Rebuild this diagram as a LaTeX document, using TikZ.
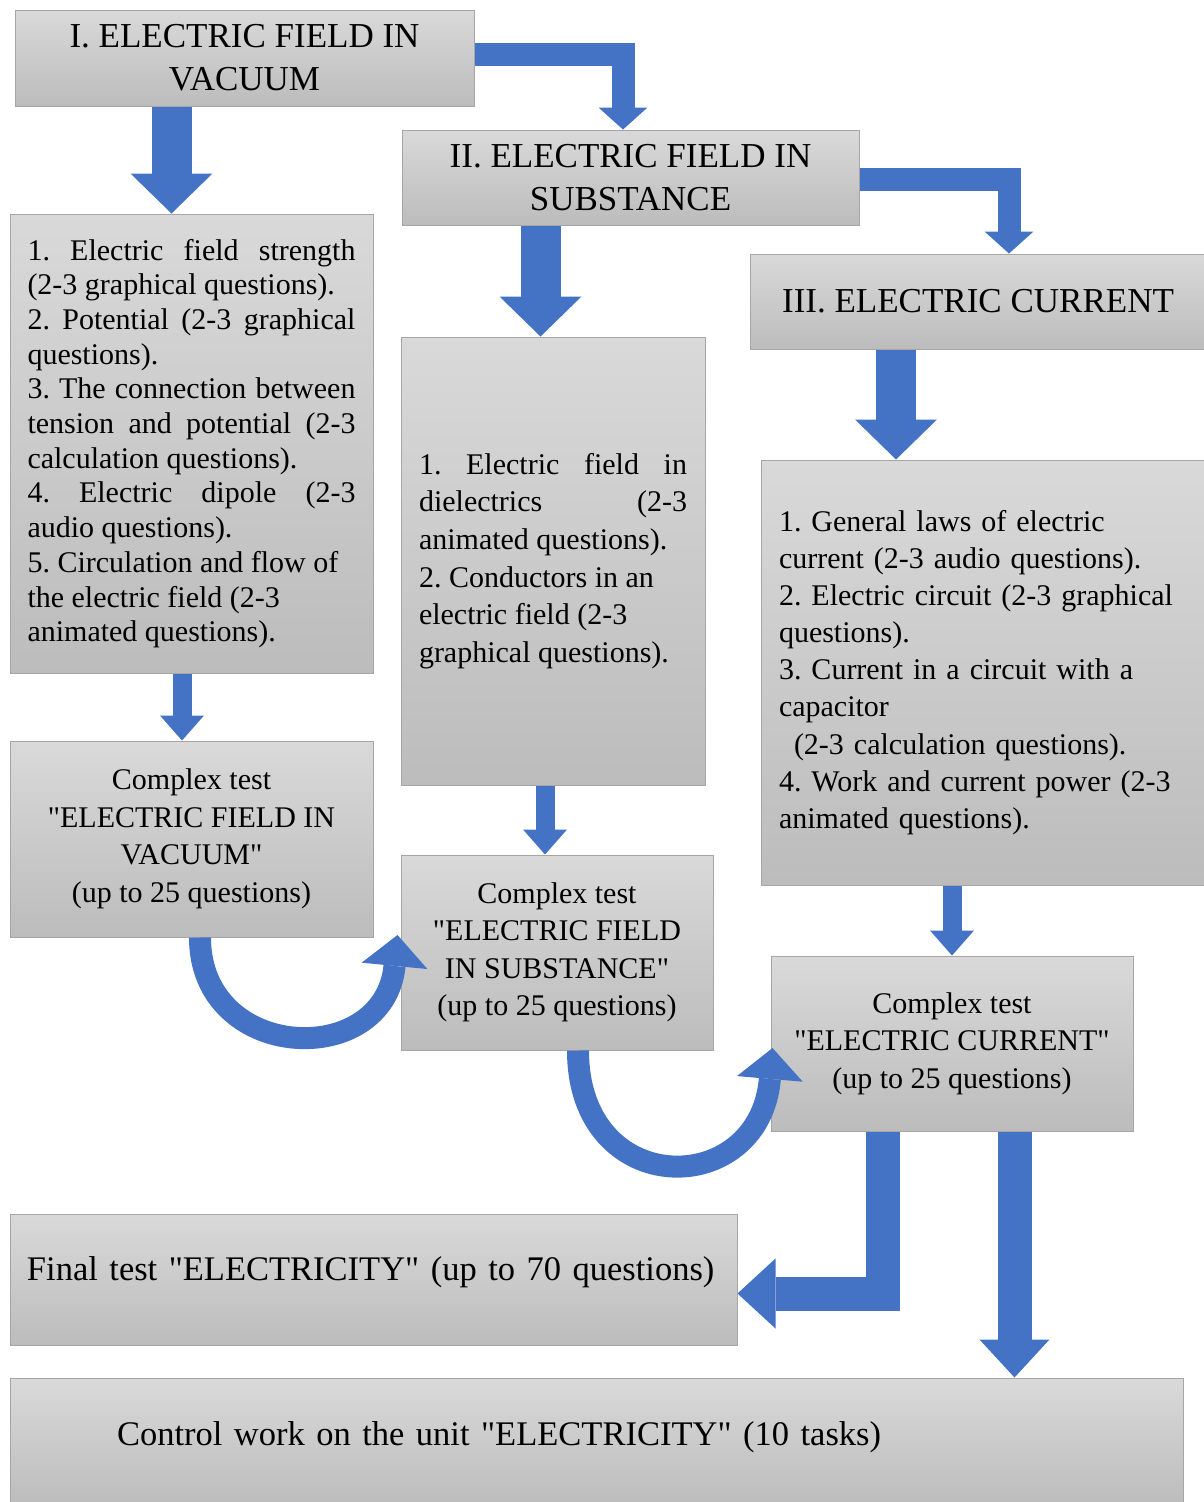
\documentclass[tikz,border=0pt]{standalone}
\usepackage{fontspec}
\setmainfont{Liberation Serif}
\usetikzlibrary{
	arrows.meta		% Triangle tips for the block arrows
}
\definecolor{boxtop}{HTML}{D9D9D9}
\definecolor{boxbot}{HTML}{BCBCBC}
\definecolor{boxline}{HTML}{A6A6A6}
\definecolor{arrowblue}{HTML}{4472C4}
\newcommand{\qmark}{\XeTeXglyph\XeTeXglyphindex "quotedbl"\relax}	% straight double quote
\hyphenpenalty=10000
\hbadness=10000
\frenchspacing

\begin{document}
\begin{tikzpicture}[x=1pt, y=-1pt]
			\begin{scope}[
				box/.style={draw=boxline, line width=1pt, top color=boxtop, bottom color=boxbot, inner sep=0pt},
				title/.style={box, font=\fontsize{35}{43}\selectfont, align=center},
				topics/.style={box, font=\fontsize{30}{34.7}\selectfont},
				test/.style={box, font=\fontsize{30}{37.5}\selectfont, align=center},
				bigarrow/.style={draw=arrowblue, line width=40pt, -{Triangle[length=40pt,width=82pt,line width=0pt]}},
				elbowarrow/.style={draw=arrowblue, line width=23pt, line join=miter, -{Triangle[length=22pt,width=49pt,line width=0pt]}},
				smallarrow/.style={draw=arrowblue, line width=19pt, -{Triangle[length=25pt,width=44pt,line width=0pt]}},
				curvearrow/.style={draw=arrowblue, line width=22pt, -{Triangle[length=31pt,width=66pt,line width=0pt]}},
				tailarrow/.style={draw=arrowblue, line width=34pt, line join=miter, -{Triangle[length=38pt,width=70pt,line width=0pt]}}]

				\useasboundingbox[fill=white] (0,0) rectangle (1204,1502);

				%% Unit titles
				\node[title, minimum width=459, minimum height=96] (t1) at (244.5, 58) {I. ELECTRIC FIELD IN\\VACUUM};
				\node[title, minimum width=457, minimum height=95] (t2) at (630.5, 177.5) {II. ELECTRIC FIELD IN\\SUBSTANCE};
				\node[title, minimum width=456, minimum height=95] (t3) at (978, 301.5) {III. ELECTRIC CURRENT};

				%% Topic lists
				\node[topics, align=justify, text width=328, minimum width=363, minimum height=459] (bl) at (191.5, 443.5) {%
					1. Electric field strength\linebreak (2-3 graphical questions).\par
					2. Potential (2-3 graphical\linebreak questions).\par
					3. The connection between\linebreak tension and potential (2-3\linebreak calculation questions).\par
					4. Electric dipole (2-3\linebreak audio questions).\par
					5. Circulation and flow of\\the electric field (2-3\\animated questions).};
				\node[topics, align=justify, text width=268, minimum width=304, minimum height=448,
					font=\fontsize{30}{37.6}\selectfont] (bm) at (553, 561) {%
					1. Electric field in\linebreak dielectrics (2-3\linebreak animated questions).\par
					2. Conductors in an\\electric field (2-3\\graphical questions).};
				\node[topics, align=left, text width=409, minimum width=445, minimum height=425,
					font=\fontsize{30}{37.1}\selectfont] (br) at (983.5, 672.5) {%
					1. General laws of electric\\current (2-3 audio questions).\\
					2. Electric circuit (2-3 graphical\\questions).\\
					3. Current in a circuit with a\\capacitor\\\hspace*{15pt}(2-3 calculation questions).\\
					4. Work and current power (2-3\\animated questions).};

				%% Complex tests
				\node[test, minimum width=363, minimum height=196] (cl) at (191.5, 839) {Complex test\\\qmark ELECTRIC FIELD IN\\VACUUM\qmark\\(up to 25 questions)};
				\node[test, minimum width=312, minimum height=195] (cm) at (557, 952.5) {Complex test\\\qmark ELECTRIC FIELD\\IN SUBSTANCE\qmark\\(up to 25 questions)};
				\node[test, minimum width=362, minimum height=175] (cr) at (952, 1043.5) {Complex test\\\qmark ELECTRIC CURRENT\qmark\\(up to 25 questions)};

				%% Final test and control work
				\node[box, font=\fontsize{34.5}{43}\selectfont, align=left, inner xsep=17, text width=693,
					text height=66, text depth=65] (ft) at (373.5, 1279.5) {\mbox{Final test \qmark ELECTRICITY\qmark\ (up to 70 questions)}};
				\node[box, font=\fontsize{34.5}{43}\selectfont, align=left, inner xsep=107, text width=959,
					text height=67, text depth=62] (cw) at (596.5, 1442.5) {\mbox{Control work on the unit \qmark ELECTRICITY\qmark\ (10 tasks)}};

				% Arrows between units
				\draw[bigarrow] ([xshift=-20pt]bl.north |- t1.south) -- ([xshift=-20pt]bl.north);
				\draw[elbowarrow] ([yshift=3.5pt]t1.east) -| ([xshift=-7.5pt]t2.north);
				\draw[bigarrow] ([xshift=-12.5pt]bm.north |- t2.south) -- ([xshift=-12.5pt]bm.north);
				\draw[elbowarrow] ([yshift=-2pt]t2.east) -| ([xshift=31pt]t3.north);
				\draw[bigarrow] ([xshift=-87.5pt]br.north |- t3.south) -- ([xshift=-87.5pt]br.north);

				% Arrows to the complex tests
				\draw[smallarrow] ([xshift=-9.5pt]cl.north |- bl.south) -- ([xshift=-9.5pt]cl.north);
				\draw[smallarrow] ([xshift=-12pt]cm.north |- bm.south) -- ([xshift=-12pt]cm.north);
				\draw[smallarrow] (cr.north |- br.south) -- (cr.north);

				% Curved arrows from test to test
				\draw[curvearrow] ([xshift=8.5pt]cl.south) .. controls +(0,125) and +(-13,135) .. ([xshift=-3pt,yshift=17.5pt]cm.west);
				\draw[curvearrow] ([xshift=21pt]cm.south) .. controls +(0,150) and +(-13,152) .. ([xshift=2pt,yshift=-4.5pt]cr.west);

				% Arrows to the final test and the control work
				\draw[tailarrow] ([xshift=-69.5pt]cr.south) |- ([yshift=-14pt]ft.east);
				\draw[tailarrow] ([xshift=62.5pt]cr.south) -- ([xshift=62.5pt]cr.south |- cw.north);
			\end{scope}
\end{tikzpicture}
\end{document}
